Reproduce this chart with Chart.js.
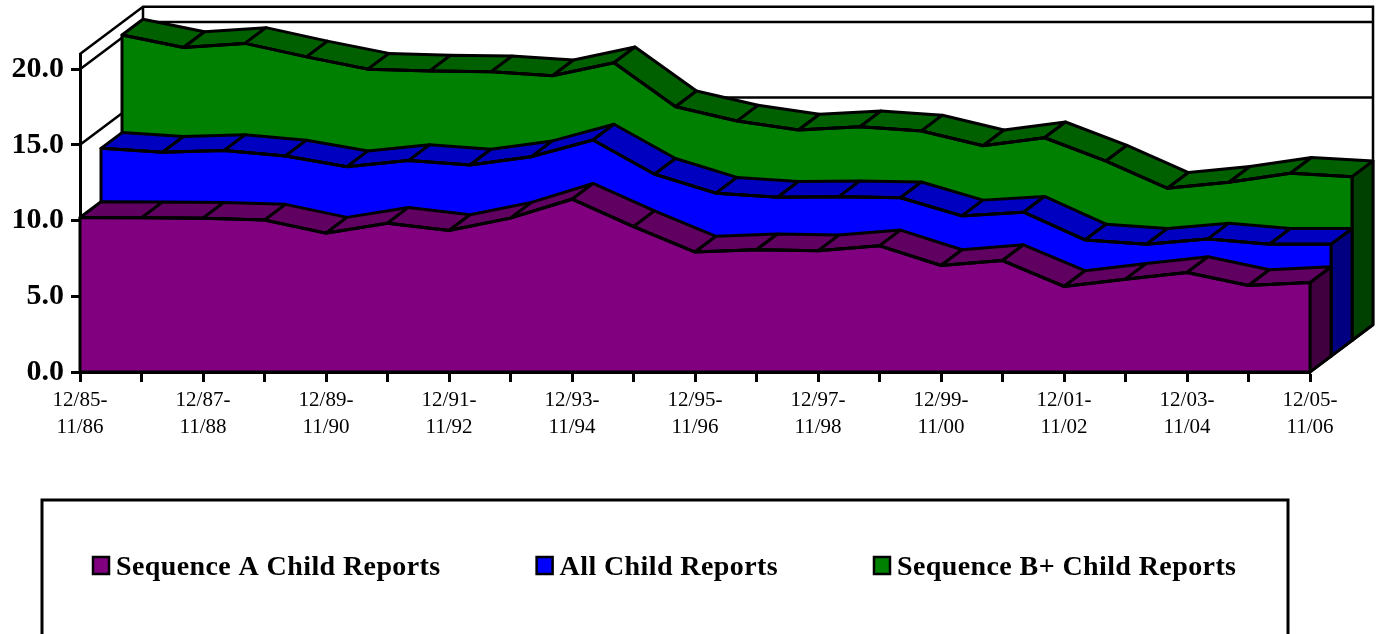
<!doctype html>
<html>
<head>
<meta charset="UTF-8">
<title>Child Reports</title>
<style>
body { margin: 0; background: #fff; }
canvas { display: block; }
</style>
</head>
<body>
<canvas id="chart" width="1381" height="634"></canvas>
<script src="https://cdn.jsdelivr.net/npm/chart.js@4/dist/chart.umd.min.js"></script>
<script>
// values
var periods = ["12/85-|11/86","12/86-|11/87","12/87-|11/88","12/88-|11/89","12/89-|11/90","12/90-|11/91","12/91-|11/92",
	"12/92-|11/93","12/93-|11/94","12/94-|11/95","12/95-|11/96","12/96-|11/97","12/97-|11/98","12/98-|11/99",
	"12/99-|11/00","12/00-|11/01","12/01-|11/02","12/02-|11/03","12/03-|11/04","12/04-|11/05","12/05-|11/06"];
var seqA = [10.20,10.18,10.16,10.03,9.17,9.83,9.34,10.16,11.41,9.60,7.92,8.07,8.00,8.33,7.03,7.36,5.65,6.13,6.57,5.71,5.91];
var allReports = [13.73,13.47,13.58,13.23,12.52,12.92,12.63,13.18,14.28,12.02,10.77,10.50,10.54,10.47,9.27,9.51,7.68,7.40,7.75,7.40,7.40];
var seqB = [20.17,19.35,19.62,18.73,17.92,17.79,17.74,17.48,18.34,15.44,14.49,13.90,14.12,13.84,12.86,13.39,11.85,10.05,10.45,11.04,10.82];
var seriesNames = ["Sequence A Child Reports","All Child Reports","Sequence B+ Child Reports"];
var faceColors = ["#800080","#0000ff","#008000"];
var topColors = ["#600060","#0000c0","#006000"];
var sideColors = ["#400040","#000080","#004000"];

// one layer of depth on screen
var depthX = 21;
var depthY = -15.75;
var serif = "'Liberation Serif', serif";
var lw = 3;

function poly(ctx, pts, fill) {
	ctx.beginPath();
	ctx.moveTo(pts[0][0], pts[0][1]);
	for (var i = 1; i < pts.length; i++) ctx.lineTo(pts[i][0], pts[i][1]);
	ctx.closePath();
	if (fill) { ctx.fillStyle = fill; ctx.fill(); }
	ctx.stroke();
}

var depthPlugin = {
	id: "depth",
	// back wall, side wall and floor
	beforeDatasetsDraw: function (chart) {
		var ctx = chart.ctx, x = chart.scales.x, y = chart.scales.y;
		var dx = depthX * 3, dy = depthY * 3;
		var l = x.left, r = x.right, t = y.top, b = y.bottom;
		ctx.save();
		ctx.strokeStyle = "#000";
		ctx.lineWidth = 2.5;
		ctx.beginPath();
		ctx.moveTo(l, t); ctx.lineTo(l + dx, t + dy); ctx.lineTo(r + dx, t + dy);
		ctx.lineTo(r + dx, b + dy); ctx.lineTo(r, b);
		ctx.moveTo(l + dx, t + dy); ctx.lineTo(l + dx, b + dy);
		y.ticks.forEach(function (tk) {
			var py = y.getPixelForValue(tk.value);
			ctx.moveTo(l, py); ctx.lineTo(l + dx, py + dy); ctx.lineTo(r + dx, py + dy);
		});
		ctx.stroke();
		ctx.restore();
	},
	// ribbon of one series, then shift the canvas so the library's line lands on its front edge
	beforeDatasetDraw: function (chart, args) {
		var ctx = chart.ctx, pts = args.meta.data, n = args.index;
		var ox = depthX * n, oy = depthY * n;
		var b = chart.scales.y.getPixelForValue(0);
		ctx.save();
		ctx.translate(ox, oy);
		ctx.strokeStyle = "#000";
		ctx.lineWidth = lw;
		ctx.lineJoin = "round";
		var last = pts[pts.length - 1];
		poly(ctx, [[last.x, last.y], [last.x + depthX, last.y + depthY], [last.x + depthX, b + depthY], [last.x, b]], sideColors[n]);
		for (var i = 0; i < pts.length - 1; i++) {
			var p = pts[i], q = pts[i + 1];
			poly(ctx, [[p.x, p.y], [q.x, q.y], [q.x + depthX, q.y + depthY], [p.x + depthX, p.y + depthY]], topColors[n]);
		}
		var face = [];
		pts.forEach(function (p) { face.push([p.x, p.y]); });
		face.push([last.x, b]);
		face.push([pts[0].x, b]);
		poly(ctx, face, faceColors[n]);
	},
	afterDatasetDraw: function (chart) {
		chart.ctx.restore();
	},
	// legend box, runs off the bottom of the page like the original
	afterDraw: function (chart) {
		var ctx = chart.ctx;
		ctx.save();
		ctx.strokeStyle = "#000";
		ctx.lineWidth = lw;
		ctx.strokeRect(42, 500, 1246, 160);
		ctx.font = "bold 28px " + serif;
		ctx.letterSpacing = "0.4px";
		ctx.textBaseline = "alphabetic";
		var cx = 92;
		chart.data.datasets.forEach(function (ds) {
			ctx.fillStyle = ds.backgroundColor;
			ctx.lineWidth = 2.5;
			ctx.fillRect(cx + 1, 557, 16, 17);
			ctx.strokeRect(cx + 1, 557, 16, 17);
			ctx.fillStyle = "#000";
			ctx.fillText(ds.label, cx + 24, 575);
			cx += 24 + ctx.measureText(ds.label).width + 95;
		});
		ctx.restore();
	}
};

var series = [seqA, allReports, seqB];
var myChart = new Chart(document.getElementById("chart"), {
	type: "line",
	data: {
		labels: periods.map(function (p) { return p.split("|"); }),
		datasets: series.map(function (vals, i) {
			return {
				label: seriesNames[i],
				data: vals,
				backgroundColor: faceColors[i],
				borderColor: "#000",
				borderWidth: lw,
				pointRadius: 0,
				tension: 0,
				fill: false,
				clip: false
			};
		})
	},
	options: {
		responsive: false,
		animation: false,
		events: [],
		layout: { padding: { top: 54, right: 71, bottom: 162, left: 0 } },
		plugins: { legend: { display: false }, tooltip: { enabled: false } },
		scales: {
			x: {
				offset: false,
				afterFit: function (s) { s.height = 100; },
				border: { color: "#000", width: lw },
				grid: { drawOnChartArea: false, drawTicks: true, tickColor: "#000", tickWidth: lw, tickLength: 10 },
				ticks: {
					autoSkip: false, maxRotation: 0, padding: 5, color: "#000",
					font: { family: serif, size: 21, lineHeight: 1.28 },
					callback: function (v, i) { return i % 2 ? "" : this.getLabelForValue(v); }
				}
			},
			y: {
				min: 0,
				max: 21,
				afterFit: function (s) { s.width = 80; },
				border: { color: "#000", width: lw },
				grid: { drawOnChartArea: false, drawTicks: true, tickColor: "#000", tickWidth: lw, tickLength: 9 },
				ticks: {
					stepSize: 5, includeBounds: false, padding: 7, color: "#000",
					font: { family: serif, size: 30, weight: "bold" },
					callback: function (v) { return v.toFixed(1); }
				}
			}
		}
	},
	plugins: [depthPlugin]
});
</script>
</body>
</html>
